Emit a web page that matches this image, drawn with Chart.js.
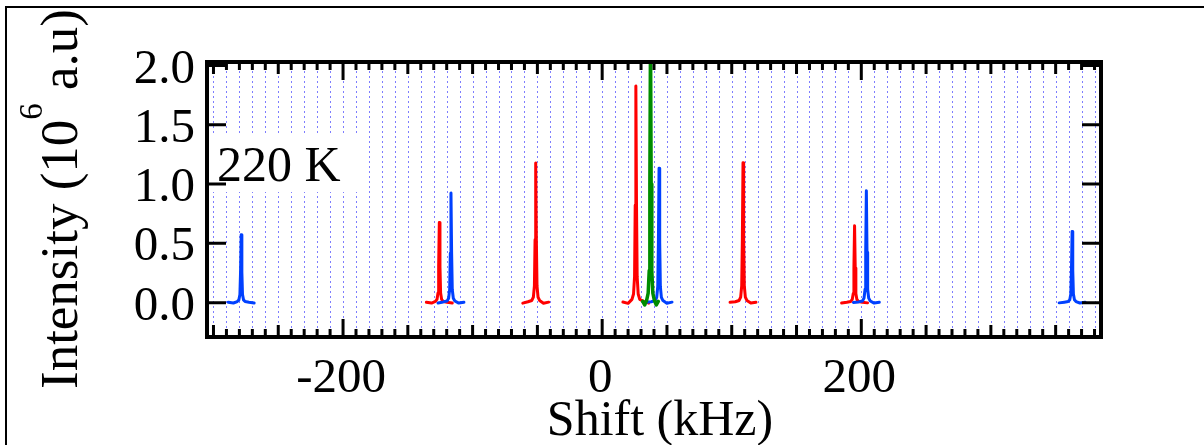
<!DOCTYPE html>
<html>
<head>
<meta charset="utf-8">
<script src="https://cdn.jsdelivr.net/npm/chart.js@4.4.1/dist/chart.umd.min.js"></script>
<style>
  html, body { margin: 0; padding: 0; background: #fff; }
</style>
</head>
<body>
<canvas id="grafico" width="1204" height="445"></canvas>
<script>
// cada sub-lista es un pico
const shiftRojo = [
  [-135.7, -131.7, -128.7, -127.5, -126.7, -126.2, -125.7, -125.2, -124.7, -123.9, -122.7, -119.7, -115.7],
  [-61.3, -57.3, -54.3, -53.1, -52.3, -51.8, -51.3, -50.8, -50.3, -49.5, -48.3, -45.3, -41.3],
  [16.0, 20.0, 23.0, 24.2, 25.0, 25.5, 26.0, 26.5, 27.0, 27.8, 29.0, 32.0, 36.0],
  [98.7, 102.7, 105.7, 106.9, 107.7, 108.2, 108.7, 109.2, 109.7, 110.5, 111.7, 114.7, 118.7],
  [184.8, 188.8, 191.8, 193.0, 193.8, 194.3, 194.8, 195.3, 195.8, 196.6, 197.8, 200.8, 204.8]
]
const intensidadRojo = [
  [0.004, -0.004, 0.010, 0.027, 0.081, 0.304, 0.676, 0.304, 0.081, 0.027, 0.010, 0.004, -0.003],
  [-0.004, 0.007, 0.018, 0.047, 0.141, 0.530, 1.177, 0.530, 0.141, 0.047, 0.018, -0.005, 0.004],
  [0.005, -0.006, 0.027, 0.073, 0.219, 0.822, 1.827, 0.822, 0.219, 0.073, 0.027, 0.011, -0.004],
  [0.003, 0.007, 0.018, 0.047, 0.142, 0.531, 1.180, 0.531, 0.142, 0.047, 0.018, -0.004, 0.004],
  [-0.003, 0.004, 0.010, 0.026, 0.078, 0.292, 0.648, 0.292, 0.078, 0.026, 0.010, 0.004, -0.002]
]

const shiftAzul = [
  [-288.6, -284.6, -281.6, -280.4, -279.6, -279.1, -278.6, -278.1, -277.6, -276.8, -275.6, -272.6, -268.6],
  [-126.7, -122.7, -119.7, -118.5, -117.7, -117.2, -116.7, -116.2, -115.7, -114.9, -113.7, -110.7, -106.7],
  [33.9, 37.9, 40.9, 42.1, 42.9, 43.4, 43.9, 44.4, 44.9, 45.7, 46.9, 49.9, 53.9],
  [193.9, 197.9, 200.9, 202.1, 202.9, 203.4, 203.9, 204.4, 204.9, 205.7, 206.9, 209.9, 213.9],
  [352.7, 356.7, 359.7, 360.9, 361.7, 362.2, 362.7, 363.2, 363.7, 364.5, 365.7, 368.7, 372.7]
]
const intensidadAzul = [
  [0.003, -0.003, 0.009, 0.023, 0.069, 0.257, 0.572, 0.257, 0.069, 0.023, 0.009, 0.003, -0.003],
  [-0.003, 0.006, 0.014, 0.037, 0.111, 0.416, 0.924, 0.416, 0.111, 0.037, 0.014, -0.004, 0.003],
  [0.004, 0.007, 0.017, 0.045, 0.136, 0.510, 1.134, 0.510, 0.136, 0.045, 0.017, -0.005, 0.004],
  [0.002, 0.006, 0.014, 0.038, 0.113, 0.424, 0.943, 0.424, 0.113, 0.038, 0.014, -0.004, 0.003],
  [-0.002, 0.004, 0.009, 0.024, 0.072, 0.270, 0.600, 0.270, 0.072, 0.024, 0.009, -0.003, 0.004]
]

const shiftVerde = [
  [31.3, 32.8, 34.3, 35.5, 36.3, 36.8, 37.3, 37.8, 38.3, 39.1, 40.3, 41.8, 43.3]
]
const intensidadVerde = [
  [0.010, -0.020, 0.020, 0.080, 0.270, 1.000, 2.250, 1.000, 0.270, 0.080, 0.020, -0.020, 0.010]
]

// ejes
const etiquetasX = [-200, 0, 200]
const etiquetasY = [0.0, 0.5, 1.0, 1.5, 2.0]
const rangoX = [-305, 385]
const rangoY = [-0.29, 2.03]
const pasoMenorX = 10
const pasoMedioX = 50
const textoTemperatura = '220 K'

const fuente = '"Liberation Serif", "Times New Roman", serif'

// arma los puntos de cada color, con un null entre picos para cortar la linea
function armarPuntos(shifts, intensidades) {
  return shifts.flatMap((pico, k) => {
    const puntos = pico.map((x, i) => ({ x: x, y: intensidades[k][i] }))
    puntos.push({ x: pico[pico.length - 1], y: null })
    return puntos
  })
}

// marco, marcas, grilla y textos
const decoracion = {
  id: 'decoracion',
  beforeDraw(chart) {
    const ctx = chart.ctx
    ctx.save()
    ctx.fillStyle = '#fff'
    ctx.fillRect(0, 0, chart.width, chart.height)
    // borde exterior
    ctx.strokeStyle = '#000'
    ctx.lineWidth = 2
    ctx.beginPath()
    ctx.moveTo(6, chart.height + 5)
    ctx.lineTo(6, 7)
    ctx.lineTo(chart.width + 5, 7)
    ctx.stroke()
    ctx.restore()
  },
  beforeDatasetsDraw(chart) {
    const ctx = chart.ctx
    const area = chart.chartArea
    const x = chart.scales.x
    ctx.save()
    // grilla vertical punteada
    ctx.strokeStyle = 'rgb(125, 125, 255)'
    ctx.lineWidth = 1
    ctx.setLineDash([2, 3])
    for (let v = Math.ceil(x.min / pasoMenorX) * pasoMenorX; v <= x.max; v += pasoMenorX) {
      const px = Math.round(x.getPixelForValue(v)) + 0.5
      ctx.beginPath()
      ctx.moveTo(px, area.top + 4)
      ctx.lineTo(px, area.bottom)
      ctx.stroke()
    }
    ctx.setLineDash([])
    // caja blanca con la temperatura
    ctx.fillStyle = '#fff'
    ctx.fillRect(area.left + 5, 133, 145, 59)
    ctx.fillStyle = '#000'
    ctx.font = '50px ' + fuente
    ctx.textBaseline = 'alphabetic'
    ctx.textAlign = 'left'
    ctx.fillText(textoTemperatura, area.left + 10, 181)
    ctx.restore()
  },
  afterDatasetsDraw(chart) {
    const ctx = chart.ctx
    const area = chart.chartArea
    const x = chart.scales.x
    const y = chart.scales.y
    ctx.save()
    ctx.strokeStyle = '#000'
    ctx.fillStyle = '#000'

    // marcas del eje x (arriba y abajo, hacia adentro)
    ctx.lineWidth = 3
    for (let v = Math.ceil(x.min / pasoMenorX) * pasoMenorX; v <= x.max; v += pasoMenorX) {
      const px = x.getPixelForValue(v)
      let largo = 8
      if (v % pasoMedioX === 0) largo = 12
      if (etiquetasX.includes(v)) largo = 18
      ctx.beginPath()
      ctx.moveTo(px, area.bottom)
      ctx.lineTo(px, area.bottom - largo)
      ctx.moveTo(px, area.top)
      ctx.lineTo(px, area.top + largo)
      ctx.stroke()
    }
    // marcas del eje y (izquierda y derecha)
    etiquetasY.forEach(v => {
      const py = y.getPixelForValue(v)
      ctx.beginPath()
      ctx.moveTo(area.left, py)
      ctx.lineTo(area.left + 19, py)
      ctx.moveTo(area.right, py)
      ctx.lineTo(area.right - 19, py)
      ctx.stroke()
    })
    // marco
    ctx.lineWidth = 4
    ctx.strokeRect(area.left, area.top, area.right - area.left, area.bottom - area.top)

    // etiquetas
    ctx.font = '49px ' + fuente
    ctx.textBaseline = 'alphabetic'
    ctx.textAlign = 'right'
    etiquetasY.forEach(v => {
      ctx.fillText(v.toFixed(1), area.left - 12, y.getPixelForValue(v) + 17)
    })
    ctx.textAlign = 'center'
    etiquetasX.forEach(v => {
      ctx.fillText(String(v), x.getPixelForValue(v) - 2, area.bottom + 55)
    })

    // titulo eje x
    ctx.font = '50px ' + fuente
    ctx.fillText('Shift (kHz)', (area.left + area.right) / 2 + 6, 435)

    // titulo eje y con el exponente
    const parte1 = 'Intensity (10'
    const parte2 = '6'
    const parte3 = ' a.u)'
    ctx.translate(77, 199)
    ctx.rotate(-Math.PI / 2)
    ctx.textAlign = 'left'
    ctx.font = '53px ' + fuente
    const w1 = ctx.measureText(parte1).width
    const w3 = ctx.measureText(parte3).width
    ctx.font = '33px ' + fuente
    const w2 = ctx.measureText(parte2).width
    let inicio = -(w1 + w2 + w3) / 2
    ctx.font = '53px ' + fuente
    ctx.fillText(parte1, inicio, 0)
    ctx.font = '33px ' + fuente
    ctx.fillText(parte2, inicio + w1, -35)
    ctx.font = '53px ' + fuente
    ctx.fillText(parte3, inicio + w1 + w2, 0)
    ctx.restore()
  }
}

const datos = {
  datasets: [
    {
      label: 'verde',
      data: armarPuntos(shiftVerde, intensidadVerde),
      borderColor: 'rgb(0, 140, 0)',
      borderWidth: 3.5
    },
    {
      label: 'azul',
      data: armarPuntos(shiftAzul, intensidadAzul),
      borderColor: 'rgb(0, 64, 255)',
      borderWidth: 3
    },
    {
      label: 'rojo',
      data: armarPuntos(shiftRojo, intensidadRojo),
      borderColor: 'rgb(255, 0, 0)',
      borderWidth: 3
    }
  ]
}

const config = {
  type: 'scatter',
  data: datos,
  options: {
    responsive: false,
    animation: false,
    devicePixelRatio: 1,
    showLine: true,
    spanGaps: false,
    layout: { padding: { left: 0, right: 103, top: 62, bottom: 0 } },
    elements: {
      point: { radius: 0, hoverRadius: 0 },
      line: { tension: 0, borderJoinStyle: 'round', borderCapStyle: 'round' }
    },
    plugins: {
      legend: { display: false },
      tooltip: { enabled: false }
    },
    scales: {
      x: {
        type: 'linear',
        min: rangoX[0],
        max: rangoX[1],
        grid: { display: false },
        border: { display: false },
        ticks: { display: false },
        afterFit: escala => { escala.height = 108 }
      },
      y: {
        type: 'linear',
        min: rangoY[0],
        max: rangoY[1],
        grid: { display: false },
        border: { display: false },
        ticks: { display: false },
        afterFit: escala => { escala.width = 207 }
      }
    }
  },
  plugins: [decoracion]
}

var miGrafico = new Chart(document.getElementById('grafico'), config)
</script>
</body>
</html>
